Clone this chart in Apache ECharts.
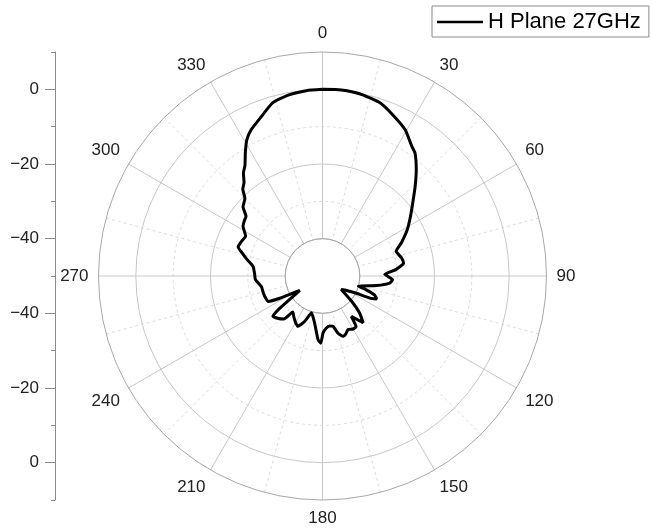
<!DOCTYPE html>
<html>
<head>
<meta charset="utf-8">
<script src="https://cdn.jsdelivr.net/npm/echarts@6/dist/echarts.min.js"></script>
<style>
html,body{margin:0;padding:0;background:#fff;}
#chart{width:652px;height:530px;}
</style>
</head>
<body>
<div id="chart"></div>
<script>
// Angle tick labels (degrees)
const angleTicks = [0, 30, 60, 90, 120, 150, 180, 210, 240, 270, 300, 330];
// Series: H Plane 27GHz — angle (deg) and gain (dB)
const angles = [0, 4, 7.5, 12.5, 18.5, 23.5, 29.5, 34.5, 37, 41.5, 46, 51, 56, 61.5, 67, 71.5, 77, 81, 85, 88.5,
  93, 96, 100, 106, 107.5, 110, 113, 115, 117, 121, 126, 131.5, 135, 139, 144.5, 146.5, 150, 154.5, 158, 161,
  165, 168, 172, 176, 179.5, 181.5, 184, 189.5, 196.5, 201.5, 206, 210, 215, 219.5, 222, 226, 231, 233, 234.5, 237.5,
  242.5, 245, 250.5, 255, 260, 267, 272, 278, 283, 286, 289, 293, 297.5, 302, 305, 308, 311, 315, 317.5, 320,
  322.5, 325, 328, 331, 334, 338.5, 344, 349.5, 355, 360];
const gains = [0.0, 0.1, 0.05, -0.3, -1.15, -2.9, -5.0, -7.8, -8.8, -12.1, -15.5, -18.9, -21.6, -24.2, -27.0, -29.2, -28.3, -28.0, -30.3, -33.3,
  -31.2, -31.9, -35.3, -40.0, -37.7, -35.2, -34.2, -36.0, -39.8, -42.5, -43.8, -39.1, -35.9, -33.4, -36.7, -33.7, -33.6, -34.1, -33.3, -32.9,
  -34.2, -36.2, -36.5, -36.0, -34.7, -32.0, -32.9, -37.2, -39.7, -36.9, -35.0, -35.6, -36.6, -37.5, -34.5, -33.6, -32.9, -35.7, -39.2, -42.8,
  -37.1, -33.9, -33.6, -33.5, -33.4, -32.0, -31.8, -31.2, -29.0, -27.6, -26.1, -26.4, -26.8, -24.9, -24.4, -24.0, -21.8, -20.6, -18.4, -17.3,
  -15.2, -13.8, -11.0, -8.2, -6.4, -4.5, -1.7, -0.65, -0.17, 0.0];
// Left radial scale tick labels (top to bottom)
const radialLabels = ['0', '-20', '-40', '-40', '-20', '0'];
const seriesName = 'H Plane 27GHz';

const CX = 322.5, CY = 276, R = 224;
const RMIN = -50, RMAX = 10;
const rInner = R * (-40 - RMIN) / (RMAX - RMIN);
const FONT = 'Liberation Sans, Arial, sans-serif';

const chart = echarts.init(document.getElementById('chart'), null, {renderer: 'canvas'});
const data = angles.map((a, i) => [gains[i], a]);

const option = {
  backgroundColor: '#fff',
  animation: false,
  legend: {
    data: [{name: seriesName, icon: 'rect'}],
    left: 432, top: 6,
    padding: [5, 8, 4, 5],
    itemWidth: 46, itemHeight: 2.5,
    itemStyle: {color: '#000', borderWidth: 0},
    borderColor: '#8a8a8a', borderWidth: 1,
    textStyle: {fontFamily: FONT, fontSize: 22, color: '#000'}
  },
  grid: [
    {left: 55, top: 52, width: 1, height: 448},
    {left: 55, top: 52 + R * 10 / 60, width: 1, height: 448 - 2 * R * 10 / 60}
  ],
  xAxis: [
    {gridIndex: 0, type: 'value', show: false, min: 0, max: 1},
    {gridIndex: 1, type: 'value', show: false, min: 0, max: 1}
  ],
  yAxis: [
    {gridIndex: 0, type: 'value', min: 0, max: 120, interval: 10,
      axisLine: {show: true, lineStyle: {color: '#8c8c8c', width: 1}},
      axisTick: {show: true, length: 4, lineStyle: {color: '#8c8c8c'}},
      axisLabel: {show: false}, splitLine: {show: false}},
    {gridIndex: 1, type: 'value', min: 0, max: 100, interval: 20,
      axisLine: {show: true, lineStyle: {color: '#8c8c8c', width: 1}},
      axisTick: {show: true, length: 10, lineStyle: {color: '#8c8c8c'}},
      axisLabel: {show: true, margin: 16, fontFamily: FONT, fontSize: 17, color: '#222',
        formatter: function (v) { return radialLabels[5 - Math.round(v / 20)].replace('-', '\u2212'); }},
      splitLine: {show: false}}
  ],
  polar: [
    {center: [CX, CY], radius: [rInner, R]},
    {center: [CX, CY], radius: [0, R]}
  ],
  angleAxis: [
    {polarIndex: 0, type: 'value', min: 0, max: 360, interval: 30, startAngle: 90, clockwise: true,
      axisLine: {show: true, lineStyle: {color: '#a8a8a8', width: 1}},
      axisTick: {show: false},
      axisLabel: {show: true, margin: 10, fontFamily: FONT, fontSize: 17, color: '#222',
        formatter: function (v) { return angleTicks.indexOf(v) >= 0 ? String(v) : ''; }},
      splitLine: {show: true, lineStyle: {color: '#c8c8c8', width: 1}},
      minorTick: {show: false, splitNumber: 2},
      minorSplitLine: {show: true, lineStyle: {color: '#dcdcdc', width: 1, type: [3, 3]}}},
    {polarIndex: 1, type: 'value', min: 0, max: 360, interval: 30, startAngle: 90, clockwise: true,
      axisLine: {show: false}, axisTick: {show: false}, axisLabel: {show: false}, splitLine: {show: false}}
  ],
  radiusAxis: [
    {polarIndex: 0, type: 'value', min: -40, max: 10, interval: 10,
      axisLine: {show: false}, axisTick: {show: false}, axisLabel: {show: false},
      splitLine: {show: true, lineStyle: {color: ['#c8c8c8', 'transparent'], width: 1}}},
    {polarIndex: 1, type: 'value', min: RMIN, max: RMAX, interval: 10,
      axisLine: {show: false}, axisTick: {show: false}, axisLabel: {show: false},
      splitLine: {show: true, lineStyle: {color: ['transparent', 'transparent', '#dcdcdc', 'transparent', '#dcdcdc', 'transparent', 'transparent'], width: 1, type: [3, 3]}}}
  ],
  series: [{
    name: seriesName,
    type: 'line',
    coordinateSystem: 'polar',
    polarIndex: 1,
    data: data,
    symbol: 'none',
    smooth: 0.15,
    lineStyle: {color: '#000', width: 3},
    itemStyle: {color: '#000'},
    z: 10
  }]
};
chart.setOption(option);
</script>
</body>
</html>
